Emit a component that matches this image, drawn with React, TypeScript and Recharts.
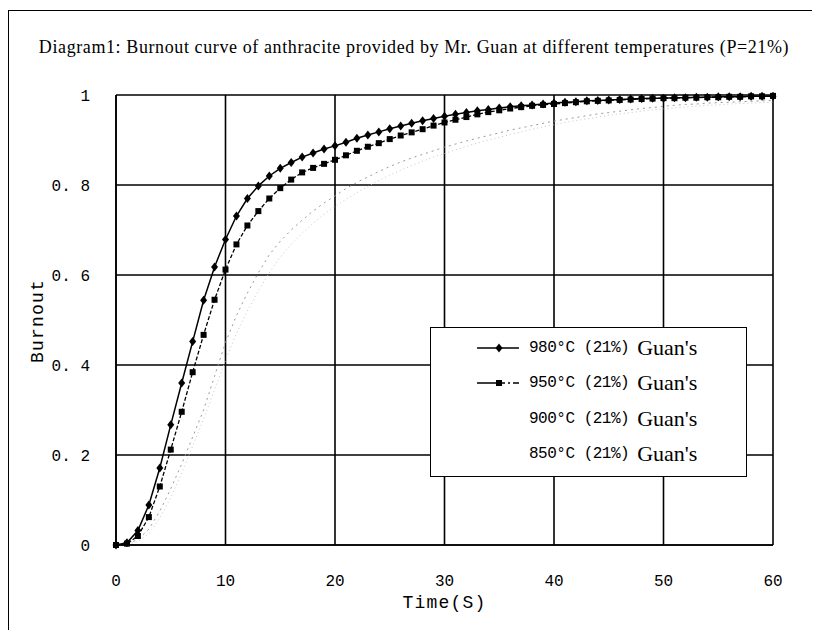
import { LineChart, Line, XAxis, YAxis, CartesianGrid, Label } from "recharts";

const TIME = [
  0, 1, 2, 3, 4, 5, 6, 7, 8, 9, 10, 11, 12, 13, 14, 15, 16, 17, 18, 19, 20,
  21, 22, 23, 24, 25, 26, 27, 28, 29, 30, 31, 32, 33, 34, 35, 36, 37, 38, 39, 40,
  41, 42, 43, 44, 45, 46, 47, 48, 49, 50, 51, 52, 53, 54, 55, 56, 57, 58, 59, 60,
];

const B980 = [
  0, 0.005, 0.032, 0.089, 0.171, 0.267, 0.36, 0.452, 0.544, 0.618, 0.679,
  0.731, 0.77, 0.798, 0.82, 0.837, 0.85, 0.862, 0.871, 0.88, 0.887,
  0.895, 0.904, 0.911, 0.918, 0.925, 0.931, 0.937, 0.943, 0.948, 0.953,
  0.957, 0.961, 0.965, 0.968, 0.971, 0.974, 0.976, 0.978, 0.98, 0.982,
  0.984, 0.985, 0.987, 0.988, 0.989, 0.99, 0.991, 0.992, 0.993, 0.993,
  0.994, 0.994, 0.995, 0.995, 0.996, 0.996, 0.996, 0.997, 0.997, 0.997,
];

const B950 = [
  0, 0.003, 0.02, 0.062, 0.13, 0.212, 0.296, 0.384, 0.467, 0.545, 0.612,
  0.668, 0.71, 0.742, 0.77, 0.793, 0.812, 0.828, 0.838, 0.847, 0.856,
  0.866, 0.876, 0.885, 0.893, 0.902, 0.91, 0.917, 0.924, 0.932, 0.939,
  0.945, 0.951, 0.957, 0.962, 0.966, 0.97, 0.973, 0.976, 0.978, 0.98,
  0.982, 0.984, 0.986, 0.987, 0.988, 0.989, 0.99, 0.991, 0.992, 0.993,
  0.993, 0.994, 0.994, 0.995, 0.995, 0.996, 0.996, 0.997, 0.997, 0.998,
];

const B900 = [
  0, 0.002, 0.012, 0.035, 0.075, 0.125, 0.18, 0.24, 0.3, 0.375, 0.45,
  0.51, 0.56, 0.605, 0.645, 0.675, 0.7, 0.722, 0.742, 0.76, 0.776,
  0.792, 0.806, 0.818, 0.83, 0.841, 0.851, 0.86, 0.868, 0.876, 0.884,
  0.891, 0.898, 0.904, 0.91, 0.916, 0.922, 0.927, 0.932, 0.937, 0.942,
  0.946, 0.95, 0.954, 0.958, 0.961, 0.964, 0.967, 0.97, 0.972, 0.975,
  0.977, 0.979, 0.98, 0.982, 0.983, 0.984, 0.985, 0.986, 0.987, 0.988,
];

const B850 = [
  0, 0.001, 0.008, 0.025, 0.06, 0.105, 0.16, 0.22, 0.28, 0.345, 0.41,
  0.47, 0.52, 0.565, 0.605, 0.64, 0.668, 0.693, 0.715, 0.735, 0.752,
  0.768, 0.783, 0.797, 0.81, 0.822, 0.833, 0.843, 0.853, 0.862, 0.87,
  0.878, 0.886, 0.893, 0.9, 0.906, 0.912, 0.918, 0.924, 0.929, 0.934,
  0.939, 0.943, 0.947, 0.951, 0.955, 0.958, 0.961, 0.964, 0.967, 0.969,
  0.971, 0.973, 0.975, 0.977, 0.978, 0.98, 0.981, 0.982, 0.983, 0.984,
];

const X_TICKS = [0, 10, 20, 30, 40, 50, 60];
const Y_TICKS = [0, 0.2, 0.4, 0.6, 0.8, 1];
const SERIES_NAMES = ["980°C", "950°C", "900°C", "850°C"];
const SERIES_TAG = "(21%)";

const data = TIME.map((t, i) => ({
  t,
  b980: B980[i],
  b950: B950[i],
  b900: B900[i],
  b850: B850[i],
}));

const MONO = "'Liberation Mono', 'DejaVu Sans Mono', monospace";
const SERIF = "'Liberation Serif', 'Times New Roman', serif";

const Diamond = (props: any) => {
  const { cx, cy, index } = props;
  if (cx == null || cy == null) return <g key={index} />;
  return (
    <path
      key={index}
      d={`M${cx},${cy - 4.5} L${cx + 3.5},${cy} L${cx},${cy + 4.5} L${cx - 3.5},${cy} Z`}
      fill="#000"
      stroke="none"
    />
  );
};

const Square = (props: any) => {
  const { cx, cy, index } = props;
  if (cx == null || cy == null) return <g key={index} />;
  return <rect key={index} x={cx - 3} y={cy - 3} width={6} height={6} fill="#000" />;
};

const fmtY = (v: number) => (v === 0 ? "0" : v === 1 ? "1" : v.toFixed(1).replace(".", ". "));

function LegendBox() {
  return (
    <div
      style={{
        position: "absolute",
        left: 422,
        top: 319,
        width: 317,
        height: 150,
        border: "1.5px solid #000",
        background: "#fff",
        boxSizing: "border-box",
        paddingTop: 2,
      }}
    >
      {SERIES_NAMES.map((name, i) => (
        <div key={name} style={{ display: "flex", alignItems: "center", height: 35.5 }}>
          <svg width={96} height={14} style={{ flex: "none" }}>
            {i === 0 && (
              <>
                <line x1={46} y1={7} x2={88} y2={7} stroke="#000" strokeWidth={1.5} />
                <path d="M68,2.5 L71.5,7 L68,11.5 L64.5,7 Z" fill="#000" />
              </>
            )}
            {i === 1 && (
              <>
                <line x1={46} y1={7} x2={88} y2={7} stroke="#000" strokeWidth={1.5} strokeDasharray="28 3 2 3" />
                <rect x={65} y={4} width={6} height={6} fill="#000" />
              </>
            )}
          </svg>
          <span style={{ fontFamily: MONO, fontSize: 16, letterSpacing: -0.5, color: "#000", marginLeft: 2 }}>
            {name} {SERIES_TAG}
          </span>
          <span style={{ fontFamily: SERIF, fontSize: 22, color: "#000", marginLeft: 8 }}>Guan's</span>
        </div>
      ))}
    </div>
  );
}

export default function App() {
  return (
    <div style={{ position: "relative", width: 812, height: 622, overflow: "hidden", background: "#fff" }}>
      <div
        style={{
          position: "absolute",
          left: 0,
          top: 2,
          width: 809,
          height: 660,
          borderLeft: "1.5px solid #000",
          borderTop: "1.5px solid #000",
          borderRight: "1.5px solid #000",
          boxSizing: "border-box",
        }}
      />
      <div
        style={{
          position: "absolute",
          left: 0,
          top: 29,
          width: 812,
          textAlign: "center",
          fontFamily: SERIF,
          fontSize: 18,
          letterSpacing: 0.6,
          color: "#000",
        }}
      >
        Diagram1: Burnout curve of anthracite provided by Mr. Guan at different temperatures (P=21%)
      </div>
      <LineChart
        width={812}
        height={622}
        data={data}
        margin={{ top: 87, right: 47, bottom: 55, left: 48 }}
        style={{ position: "absolute", left: 0, top: 0 }}
      >
        <CartesianGrid stroke="#000" strokeWidth={1.6} horizontal vertical />
        <XAxis
          dataKey="t"
          type="number"
          domain={[0, 60]}
          ticks={X_TICKS}
          height={30}
          axisLine={{ stroke: "#000", strokeWidth: 1.6 }}
          tickLine={false}
          tickMargin={24}
          tick={{ fill: "#000", fontFamily: MONO, fontSize: 16 }}
        >
          <Label
            value="Time(S)"
            position="bottom"
            offset={20}
            style={{ fill: "#000", fontFamily: MONO, fontSize: 18, letterSpacing: 1.2 }}
          />
        </XAxis>
        <YAxis
          type="number"
          domain={[0, 1]}
          ticks={Y_TICKS}
          width={60}
          axisLine={{ stroke: "#000", strokeWidth: 1.6 }}
          tickLine={false}
          tickMargin={20}
          tickFormatter={fmtY}
          tick={{ fill: "#000", fontFamily: MONO, fontSize: 16 }}
        >
          <Label
            content={() => (
              <text
                x={30}
                y={313}
                transform="rotate(-90, 30, 313)"
                textAnchor="middle"
                dominantBaseline="central"
                fill="#000"
                fontFamily={MONO}
                fontSize={18}
                letterSpacing={1.2}
              >
                Burnout
              </text>
            )}
          />
        </YAxis>
        <Line
          type="linear"
          dataKey="b850"
          stroke="#c8c8c8"
          strokeWidth={1}
          strokeDasharray="1 3"
          dot={false}
          isAnimationActive={false}
        />
        <Line
          type="linear"
          dataKey="b900"
          stroke="#9a9a9a"
          strokeWidth={1}
          strokeDasharray="2 4"
          dot={false}
          isAnimationActive={false}
        />
        <Line
          type="linear"
          dataKey="b950"
          stroke="#000"
          strokeWidth={1.3}
          strokeDasharray="4 2"
          dot={Square}
          isAnimationActive={false}
        />
        <Line
          type="linear"
          dataKey="b980"
          stroke="#000"
          strokeWidth={1.5}
          dot={Diamond}
          isAnimationActive={false}
        />
      </LineChart>
      <LegendBox />
    </div>
  );
}
